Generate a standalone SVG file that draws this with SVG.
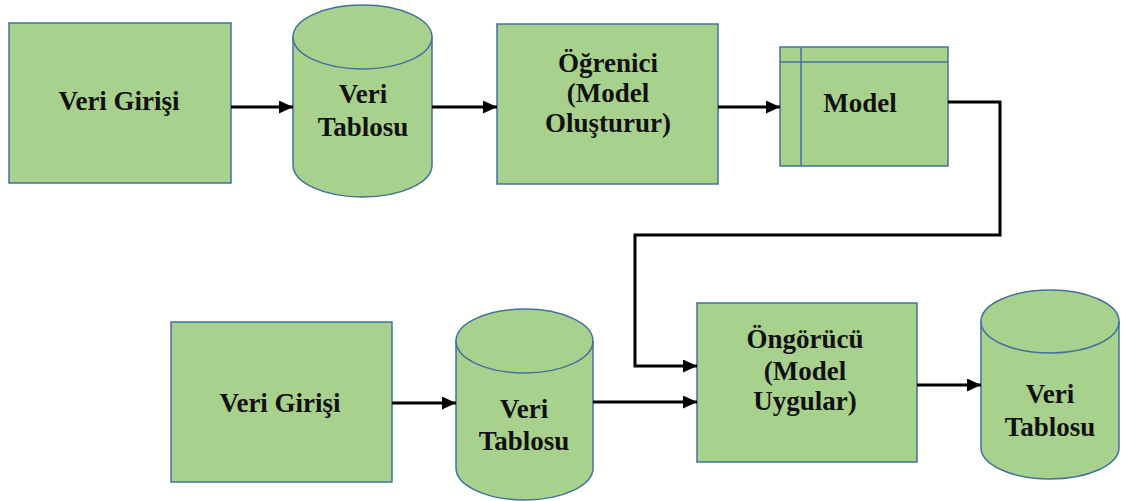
<svg xmlns="http://www.w3.org/2000/svg" width="1124" height="501" viewBox="0 0 1124 501">
  <style>
    .shape { fill: #A9D18E; stroke: #41719C; stroke-width: 1.5; }
    .inner { fill: none; stroke: #41719C; stroke-width: 1.5; }
    .label { font-family: "Liberation Serif", "DejaVu Serif", serif; font-weight: bold; font-size: 27px; fill: #111; text-anchor: middle; }
    .wire { fill: none; stroke: #000; stroke-width: 3; }
  </style>
  <defs>
    <marker id="arrow" markerUnits="userSpaceOnUse" markerWidth="14" markerHeight="13" refX="14" refY="6.5" orient="auto">
      <path d="M0,0 L14,6.5 L0,13 Z" fill="#000"/>
    </marker>
  </defs>
  <rect width="1124" height="501" fill="#fff"/>

  <!-- upper row: training -->
  <g id="veri-girisi-1">
    <rect class="shape" x="9" y="23" width="222" height="160"/>
    <text class="label" x="119" y="110">Veri Girişi</text>
  </g>
  <g id="veri-tablosu-1">
    <path class="shape" d="M293,37 A69.5,32 0 0 1 432,37 V165 A69.5,32 0 0 1 293,165 Z"/>
    <path class="inner" d="M293,37 A69.5,32 0 0 0 432,37"/>
    <text class="label" x="363" y="103">Veri</text>
    <text class="label" x="363" y="136">Tablosu</text>
  </g>
  <g id="ogrenici">
    <rect class="shape" x="497" y="24" width="221" height="160"/>
    <text class="label" x="608" y="72">Öğrenici</text>
    <text class="label" x="608" y="102">(Model</text>
    <text class="label" x="608" y="132">Oluşturur)</text>
  </g>
  <g id="model">
    <rect class="shape" x="780" y="47" width="168" height="119"/>
    <path class="inner" d="M780,62 H948 M801,47 V166"/>
    <text class="label" x="860" y="112">Model</text>
  </g>

  <!-- lower row: prediction -->
  <g id="veri-girisi-2">
    <rect class="shape" x="171" y="322" width="221" height="160"/>
    <text class="label" x="280" y="412">Veri Girişi</text>
  </g>
  <g id="veri-tablosu-2">
    <path class="shape" d="M456,341 A68.5,32 0 0 1 593,341 V468 A68.5,32 0 0 1 456,468 Z"/>
    <path class="inner" d="M456,341 A68.5,32 0 0 0 593,341"/>
    <text class="label" x="524" y="418">Veri</text>
    <text class="label" x="524" y="450">Tablosu</text>
  </g>
  <g id="ongorucu">
    <rect class="shape" x="697" y="303" width="220" height="159"/>
    <text class="label" x="805" y="348">Öngörücü</text>
    <text class="label" x="805" y="380">(Model</text>
    <text class="label" x="805" y="410">Uygular)</text>
  </g>
  <g id="veri-tablosu-3">
    <path class="shape" d="M981,321.5 A69,31.5 0 0 1 1119,321.5 V447.5 A69,31.5 0 0 1 981,447.5 Z"/>
    <path class="inner" d="M981,321.5 A69,31.5 0 0 0 1119,321.5"/>
    <text class="label" x="1050" y="403">Veri</text>
    <text class="label" x="1050" y="436">Tablosu</text>
  </g>

  <g id="connectors">
    <path class="wire" marker-end="url(#arrow)" d="M231,107 H293"/>
    <path class="wire" marker-end="url(#arrow)" d="M432,107 H497"/>
    <path class="wire" marker-end="url(#arrow)" d="M718,107 H780"/>
    <path class="wire" marker-end="url(#arrow)" d="M948,102 H1000 V235 H635 V366 H697"/>
    <path class="wire" marker-end="url(#arrow)" d="M392,403 H456"/>
    <path class="wire" marker-end="url(#arrow)" d="M593,402 H697"/>
    <path class="wire" marker-end="url(#arrow)" d="M917,385 H981"/>
  </g>
</svg>
